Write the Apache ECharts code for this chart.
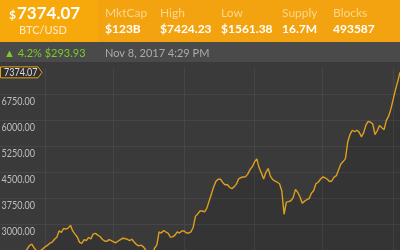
<!DOCTYPE html>
<html><head><meta charset="utf-8">
<script src="https://cdn.jsdelivr.net/npm/echarts@6/dist/echarts.min.js"></script>
<style>html,body{margin:0;padding:0;background:#3a3a3a}#c{width:400px;height:250px}</style>
</head><body><div id="c"></div>
<script>
// ---- data ----
var startDate = Date.UTC(2017, 4, 12);
var endDate = Date.UTC(2017, 10, 4);
var prices = [
1720,1770,1690,1730,1760,1800,1870,1960,2040,2050,
2120,2200,2280,2380,2420,2310,2230,2200,2240,2290,
2350,2390,2450,2480,2560,2620,2800,2760,2870,2850,
2880,2960,2800,2710,2625,2470,2440,2550,2520,2610,
2570,2710,2730,2680,2640,2560,2510,2500,2550,2520,
2480,2460,2510,2550,2590,2580,2560,2520,2560,2480,
2410,2370,2390,2350,2260,2150,2000,2100,2300,2390,
2770,2740,2810,2770,2730,2620,2630,2680,2770,2740,
2800,2800,2740,2740,2770,2900,3220,3290,3375,3375,
3350,3450,3660,3860,4070,4230,4290,4290,4200,4130,
4140,4060,4020,4070,4150,4300,4340,4355,4360,4440,
4570,4650,4790,4880,4620,4470,4300,4490,4600,4375,
4280,4240,4205,4160,3950,3280,3630,3645,3670,3760,
4000,3910,3780,3600,3660,3700,3730,3890,3960,4160,
4205,4290,4355,4335,4290,4225,4240,4350,4395,4565,
4730,4800,4885,5365,5580,5705,5660,5705,5650,5515,
5630,5850,5960,5935,5890,5580,5690,5840,5775,5720,
5990,6110,6320,6595,6870,7110,7374.07
];
var monthTicks = [Date.UTC(2017,5,1), Date.UTC(2017,6,1), Date.UTC(2017,7,1), Date.UTC(2017,8,1), Date.UTC(2017,9,1), Date.UTC(2017,10,1)];
var yTicks = [3000, 3750, 4500, 5250, 6000, 6750];
var lastPrice = '7374.07';
var pair = 'BTC/USD';
var statLabels = ['MktCap', 'High', 'Low', 'Supply', 'Blocks'];
var statValues = ['$123B', '$7424.23', '$1561.38', '16.7M', '493587'];
var changeText = '\u25B2 4.2% $293.93';
var dateText = 'Nov 8, 2017 4:29 PM';
var yMin = 2250, yMax = 7500, yStep = 750;

var seriesData = prices.map(function (v, i) { return [startDate + i * 86400000, v]; });

var chart = echarts.init(document.getElementById('c'), null, { renderer: 'canvas' });
var FONT = 'Lato, "Open Sans", sans-serif';
var statX = [105, 160, 221, 282, 333];
var GRID = '#464646';

var graphics = [
  { type: 'rect', shape: { x: 0, y: 0, width: 400, height: 42 }, style: { fill: '#F3A30F' }, z: -1 },
  { type: 'rect', shape: { x: 0, y: 0, width: 98, height: 42 }, style: { fill: '#F7A90C' }, z: -1 },
  { type: 'rect', shape: { x: 0, y: 42, width: 400, height: 20 }, style: { fill: '#4a4a4a' }, z: -1 },
  { type: 'text', x: 9, y: 9, style: { text: '$', fill: '#fff', font: 'bold 12px ' + FONT } },
  { type: 'text', x: 17, y: 5, style: { text: lastPrice, fill: '#fff', font: 'bold 17px ' + FONT } },
  { type: 'text', x: 43, y: 30, style: { text: pair, fill: '#FDEBC8', font: '11px ' + FONT, align: 'center', verticalAlign: 'middle' } },
  { type: 'text', x: 4, y: 53, style: { text: changeText, fill: '#7CCB2B', font: '11px ' + FONT, verticalAlign: 'middle' } },
  { type: 'text', x: 105, y: 53, style: { text: dateText, fill: '#ABABAB', font: '11px ' + FONT, verticalAlign: 'middle' } }
];
statLabels.forEach(function (l, i) {
  graphics.push({ type: 'text', x: statX[i], y: 13, style: { text: l, fill: '#FCD68E', font: '12px ' + FONT, verticalAlign: 'middle' } });
  graphics.push({ type: 'text', x: statX[i], y: 29, style: { text: statValues[i], fill: '#fff', font: 'bold 12px ' + FONT, verticalAlign: 'middle' } });
});

chart.setOption({
  backgroundColor: '#3a3a3a',
  animation: false,
  grid: { left: 0, right: 0, top: 68, bottom: 0 },
  xAxis: {
    type: 'time', min: startDate, max: endDate,
    axisLabel: { show: false },
    axisTick: { show: false, customValues: monthTicks },
    axisLine: { show: false },
    splitLine: { show: true, lineStyle: { color: GRID, width: 1 } }
  },
  yAxis: {
    type: 'value', min: yMin, max: yMax, interval: yStep,
    axisLine: { show: false }, axisTick: { show: false },
    splitLine: { show: true, showMaxLine: false, showMinLine: false, lineStyle: { color: GRID, width: 1 } },
    axisLabel: { show: false }
  },
  series: [{
    type: 'line', data: seriesData, symbol: 'none', smooth: false,
    lineStyle: { color: '#DE9F20', width: 1.4 },
    areaStyle: { color: 'rgba(0,0,0,0.13)', origin: 'start' }
  }],
  graphic: graphics
});

var extra = [];
yTicks.forEach(function (v) {
  var py = chart.convertToPixel({ yAxisIndex: 0 }, v);
  extra.push({ type: 'text', x: 35, y: py + 8, scaleX: 0.86,
    style: { text: v.toFixed(2), fill: '#BDBDBD', font: '10.5px ' + FONT, align: 'right', verticalAlign: 'middle' }, z: 5 });
});
var ty = chart.convertToPixel({ yAxisIndex: 0 }, parseFloat(lastPrice));
extra.push({ type: 'polygon', shape: { points: [[0.5, ty - 5.5], [38, ty - 5.5], [42, ty], [38, ty + 5.5], [0.5, ty + 5.5]] },
  style: { fill: '#303030', stroke: '#E3A11A', lineWidth: 1 }, z: 10 });
extra.push({ type: 'text', x: 4, y: ty, scaleX: 0.86,
  style: { text: lastPrice, fill: '#DDDDDD', font: '10.5px ' + FONT, verticalAlign: 'middle' }, z: 11 });
chart.setOption({ graphic: graphics.concat(extra) });
</script></body></html>
